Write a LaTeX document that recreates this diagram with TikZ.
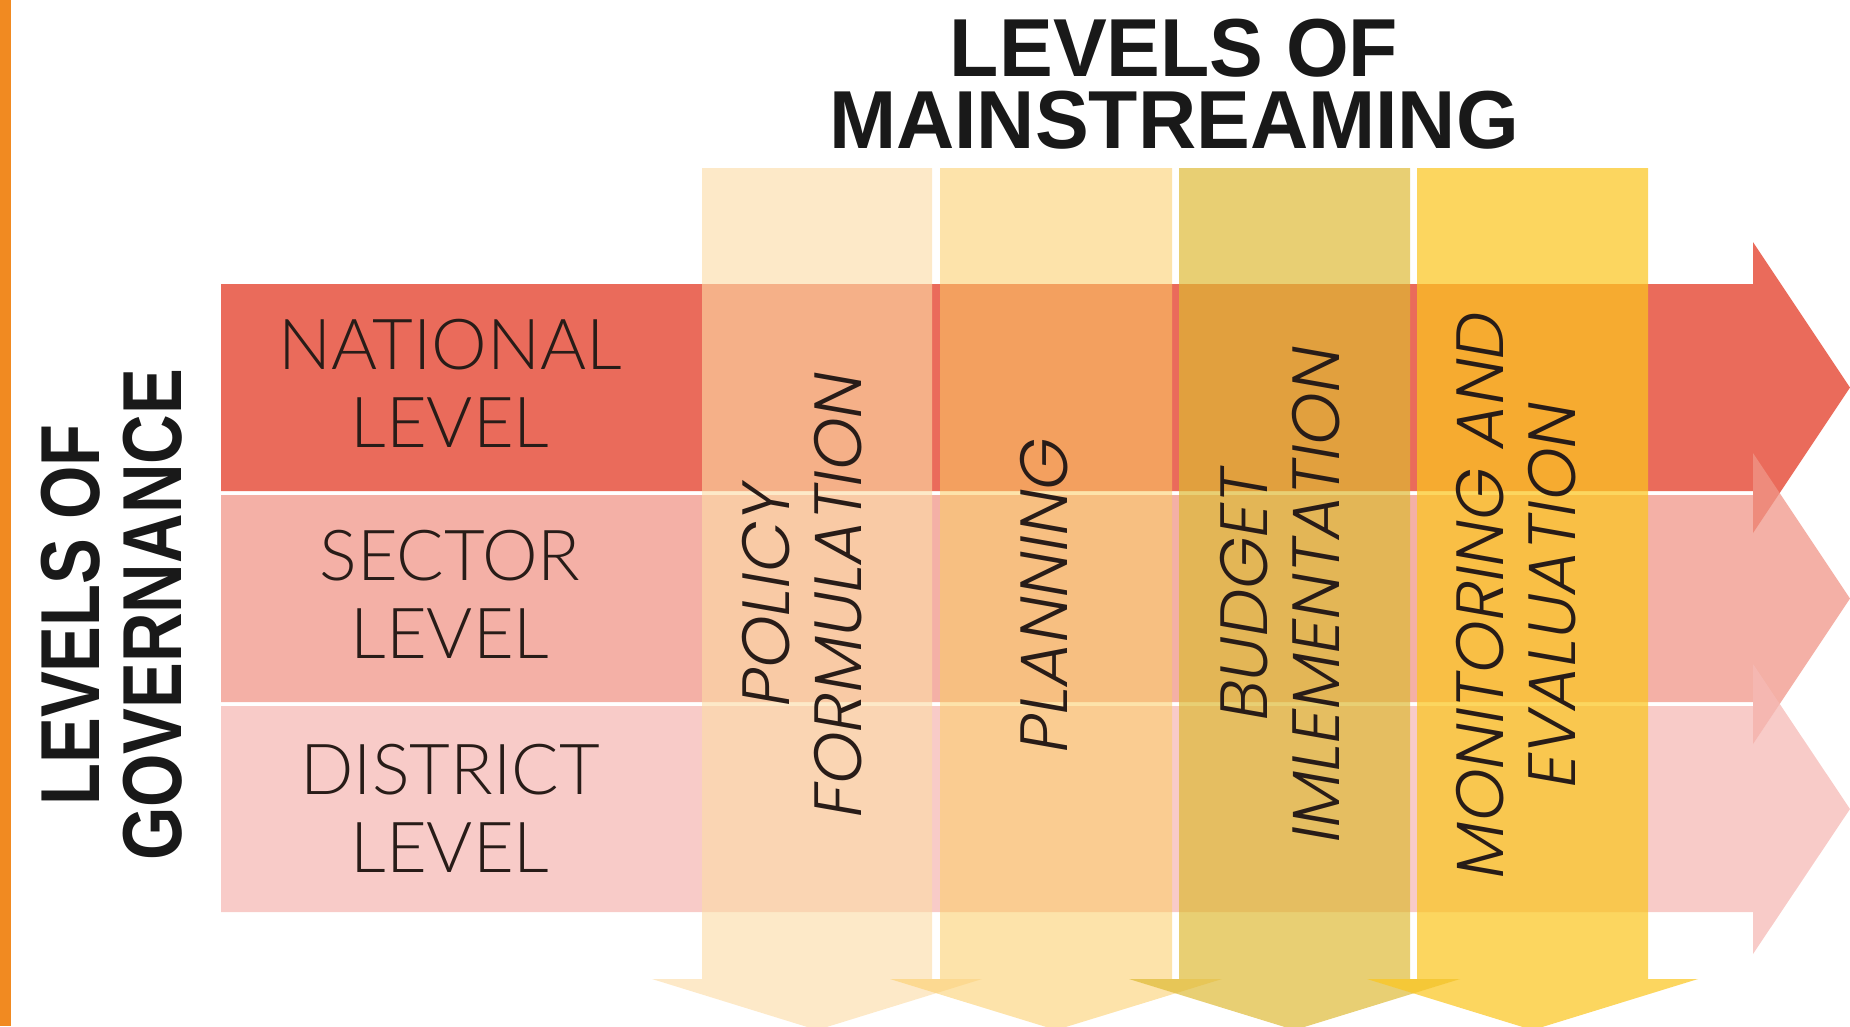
\documentclass[tikz,border=0pt]{standalone}
\usepackage{fontspec}
\setmainfont{Liberation Sans}
\newfontfamily\titlefont{Liberation Sans}[FakeStretch=0.98]
\newfontfamily\govfont{Liberation Sans}[FakeStretch=0.82]
\newfontfamily\rowfont{Lato Light}
\newfontfamily\colfont{Poppins Light Italic}

\definecolor{barra}{RGB}{241,138,33}
\definecolor{nacional}{RGB}{227,58,36}
\definecolor{sectorial}{RGB}{240,150,136}
\definecolor{distrital}{RGB}{246,186,182}
\definecolor{politica}{RGB}{252,220,166}
\definecolor{planif}{RGB}{251,204,100}
\definecolor{presup}{RGB}{221,184,49}
\definecolor{monit}{RGB}{251,197,30}
\definecolor{texto}{RGB}{40,28,24}

\begin{document}
\begin{tikzpicture}[x=0.01cm, y=-0.01cm,
    fila/.style={fill opacity=0.75},
    columna/.style={fill opacity=#1},
    etiqfila/.style={text=texto, inner sep=0, align=center, font=\rowfont\fontsize{20}{22.2}\selectfont},
    etiqcol/.style={text=texto, inner sep=0, align=center, rotate=90, font=\colfont\fontsize{19}{20.5}\selectfont},
    titulo/.style={text=black!90, inner sep=0, align=center, font=\titlefont\bfseries\fontsize{23.4}{20.5}\selectfont}]
    % Marco y barra lateral
    \useasboundingbox (0,0) rectangle (1850,1026);
    \fill[barra] (0,0) rectangle (11,1026);

    % Flechas de los niveles de gobierno
    \fill[nacional, fila] (221,284) -- (1753,284) -- (1753,242) -- (1850,387.5) -- (1753,533) -- (1753,491) -- (221,491) -- cycle;
    \fill[sectorial, fila] (221,495) -- (1753,495) -- (1753,453) -- (1850,598.5) -- (1753,744) -- (1753,702) -- (221,702) -- cycle;
    \fill[distrital, fila] (221,706) -- (1753,706) -- (1753,664) -- (1850,809) -- (1753,954) -- (1753,912) -- (221,912) -- cycle;

    % Flechas de los niveles de integración
    \fill[politica, columna=0.62] (702,168) -- (932,168) -- (932,979) -- (982,979) -- (817,1030) -- (652,979) -- (702,979) -- cycle;
    \fill[planif, columna=0.55] (940,168) -- (1172,168) -- (1172,979) -- (1222,979) -- (1056,1030) -- (890,979) -- (940,979) -- cycle;
    \fill[presup, columna=0.68] (1179,168) -- (1410,168) -- (1410,979) -- (1460,979) -- (1294.5,1030) -- (1129,979) -- (1179,979) -- cycle;
    \fill[monit, columna=0.71] (1417,168) -- (1648,168) -- (1648,979) -- (1698,979) -- (1532.5,1030) -- (1367,979) -- (1417,979) -- cycle;

    % Títulos
    \node[titulo, anchor=north] (mainstream) at (1174,18) {LEVELS OF\\MAINSTREAMING};
    \node[text=black!90, inner sep=0, align=center, rotate=90, font=\govfont\bfseries\fontsize{23.8}{23.3}\selectfont] (gobernanza) at (111.5,615) {LEVELS OF\\GOVERNANCE};

    % Etiquetas de las filas
    \node[etiqfila] (national) at (450,383.5) {NATIONAL\\LEVEL};
    \node[etiqfila] (sector) at (450,594) {SECTOR\\LEVEL};
    \node[etiqfila] (district) at (450,808) {DISTRICT\\LEVEL};

    % Etiquetas de las columnas
    \node[etiqcol] (policy) at (802,595) {POLICY\\FORMULATION};
    \node[etiqcol] (planning) at (1044,595) {PLANNING};
    \node[etiqcol] (budget) at (1280,595) {BUDGET\\IMLEMENTATION};
    \node[etiqcol] (monitoring) at (1516,595) {MONITORING AND\\EVALUATION};
\end{tikzpicture}
\end{document}
